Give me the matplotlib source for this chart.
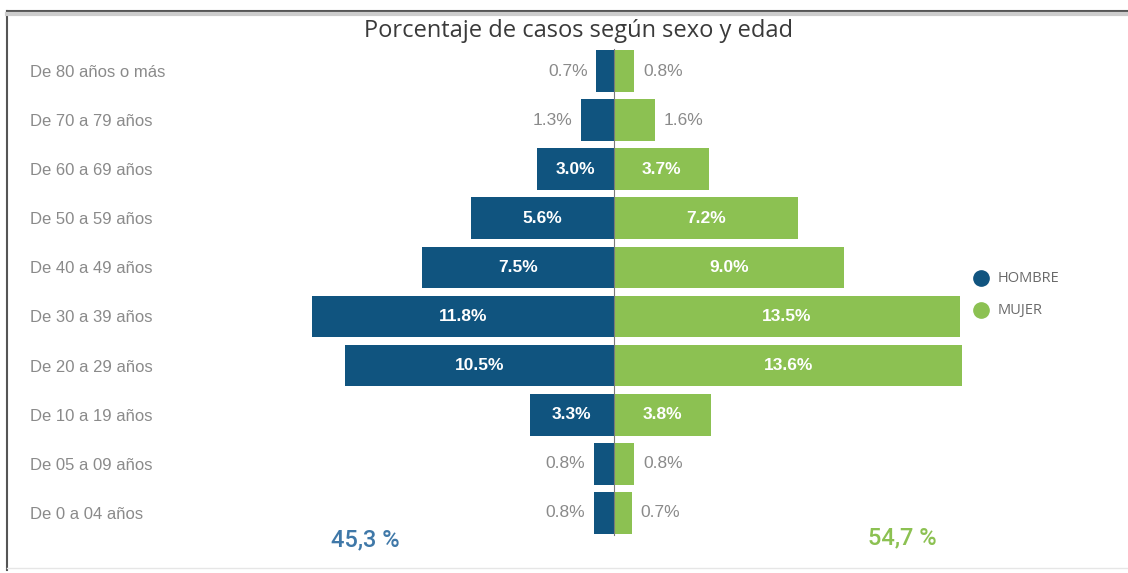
import matplotlib.pyplot as plt
from matplotlib.lines import Line2D

# Data
grupos = ['De 80 años o más', 'De 70 a 79 años', 'De 60 a 69 años', 'De 50 a 59 años',
          'De 40 a 49 años', 'De 30 a 39 años', 'De 20 a 29 años', 'De 10 a 19 años',
          'De 05 a 09 años', 'De 0 a 04 años']
hombre = [0.7, 1.3, 3.0, 5.6, 7.5, 11.8, 10.5, 3.3, 0.8, 0.8]
mujer = [0.8, 1.6, 3.7, 7.2, 9.0, 13.5, 13.6, 3.8, 0.8, 0.7]
total_hombre = '45,3 %'
total_mujer = '54,7 %'

azul = '#10547f'
verde = '#8cc152'
gris = '#8a8a8a'
plt.rcParams['font.family'] = ['Liberation Sans', 'DejaVu Sans']

W, H = 1128, 573
fig = plt.figure(figsize=(W / 100, H / 100), dpi=100)

# axes placed so that 0 sits at x=614px, 25.6 px per percent
left_px, right_px, top_px, bot_px = 290, 990, 45, 540
ax = fig.add_axes([left_px / W, 1 - bot_px / H, (right_px - left_px) / W, (bot_px - top_px) / H])
ax.set_xlim((left_px - 614) / 25.6, (right_px - 614) / 25.6)
ax.set_ylim((bot_px - 71) / 49.1, (top_px - 71) / 49.1)
ax.axis('off')

y = list(range(len(grupos)))
ax.barh(y, [-v for v in hombre], height=0.85, color=azul)
ax.barh(y, mujer, height=0.85, color=verde)
ax.plot([0, 0], [-0.45, 9.45], color='#7a7a7a', lw=0.8)

for i, (h, m) in enumerate(zip(hombre, mujer)):
    if h >= 3:
        ax.text(-h / 2, i, f'{h:.1f}%', ha='center', va='center', color='white',
                fontsize=12.5, fontweight='bold')
    else:
        ax.text(-h - 0.33, i, f'{h:.1f}%', ha='right', va='center', color=gris, fontsize=12.5)
    if m >= 3:
        ax.text(m / 2, i, f'{m:.1f}%', ha='center', va='center', color='white',
                fontsize=12.5, fontweight='bold')
    else:
        ax.text(m + 0.33, i, f'{m:.1f}%', ha='left', va='center', color=gris, fontsize=12.5)

    ax.text((30 - left_px) / (right_px - left_px), i + 0.03, grupos[i],
            transform=ax.get_yaxis_transform(),
            ha='left', va='center', color=gris, fontsize=12)

fig.text(578 / W, 1 - 31 / H, 'Porcentaje de casos según sexo y edad', ha='center', va='center',
         fontsize=17, color='#3a3a3a', family='Open Sans', fontweight='medium')
fig.text(365 / W, 1 - 540 / H, total_hombre, ha='center', va='center', fontsize=17,
         color='#3f78a8', family='Roboto', fontweight='medium')
fig.text(902 / W, 1 - 538 / H, total_mujer, ha='center', va='center', fontsize=17,
         color=verde, family='Roboto', fontweight='medium')

# legend
fig.add_artist(Line2D([981 / W], [1 - 278 / H], marker='o', ms=11, color=azul, lw=0))
fig.add_artist(Line2D([981 / W], [1 - 310 / H], marker='o', ms=11, color=verde, lw=0))
fig.text(998 / W, 1 - 278 / H, 'HOMBRE', ha='left', va='center', fontsize=10.5, color='#6a6a6a',
         family='Open Sans')
fig.text(998 / W, 1 - 310 / H, 'MUJER', ha='left', va='center', fontsize=10.5, color='#6a6a6a',
         family='Open Sans')

# frame
fig.add_artist(Line2D([7 / W, 7 / W], [1 - 11 / H, 1 - 570 / H], color='#555555', lw=1.5))
fig.add_artist(Line2D([7 / W, 1], [1 - 11 / H, 1 - 11 / H], color='#555555', lw=1.5))
fig.add_artist(Line2D([7 / W, 1], [1 - 14 / H, 1 - 14 / H], color='#cccccc', lw=3))
fig.add_artist(Line2D([7 / W, 1], [1 - 568 / H, 1 - 568 / H], color='#e6e6e6', lw=1))

fig.savefig('out.png', dpi=100)
